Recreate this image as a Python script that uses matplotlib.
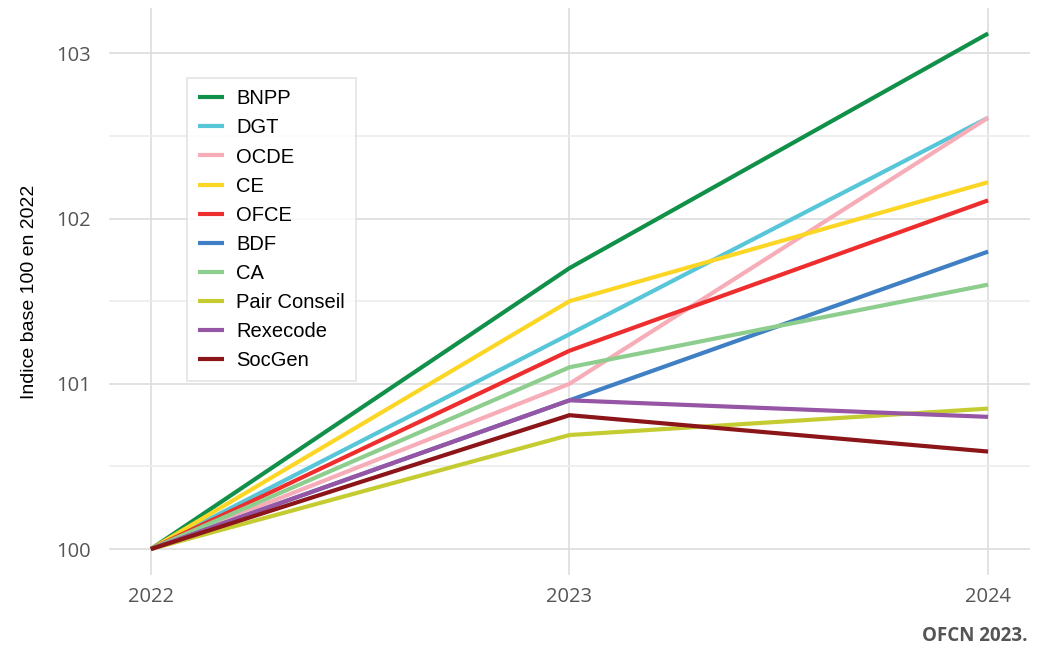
import numpy as np
import matplotlib
matplotlib.use("Agg")
import matplotlib.pyplot as plt
from matplotlib.ticker import MultipleLocator

# data (index base 100 in 2022)
years = [2022, 2023, 2024]
names = ["BNPP", "DGT", "OCDE", "CE", "OFCE", "BDF", "CA",
         "Pair Conseil", "Rexecode", "SocGen"]
values = {
    "BNPP": [100, 101.70, 103.12],
    "DGT": [100, 101.30, 102.61],
    "OCDE": [100, 101.00, 102.61],
    "CE": [100, 101.50, 102.22],
    "OFCE": [100, 101.20, 102.11],
    "BDF": [100, 100.90, 101.80],
    "CA": [100, 101.10, 101.60],
    "Pair Conseil": [100, 100.69, 100.85],
    "Rexecode": [100, 100.90, 100.80],
    "SocGen": [100, 100.81, 100.59],
}
colors = ["#11904a", "#57c6d9", "#f7adb8", "#fcd625", "#ee2e2e",
          "#3f80c4", "#8dce8f", "#c5cc32", "#9655a5", "#8b1518"]

fig = plt.figure(figsize=(10.39, 6.47), dpi=100)
ax = fig.add_axes([0.1049, 0.1113, 0.8864, 0.8763])

for name, c in zip(names, colors):
    ax.plot(years, values[name], color=c, lw=3, label=name,
            solid_capstyle="butt")

ax.set_xlim(2021.9, 2024.1)
ax.set_ylim(99.843, 103.274)
ax.set_xticks(years)
ax.yaxis.set_major_locator(MultipleLocator(1))
ax.yaxis.set_minor_locator(MultipleLocator(0.5))
ax.grid(True, which="major", color="#dddddd", lw=1.2)
ax.grid(True, which="minor", axis="y", color="#ececec", lw=1.2)
ax.set_axisbelow(True)
for s in ax.spines.values():
    s.set_visible(False)
ax.tick_params(which="both", length=0)
ax.tick_params(axis="x", pad=9)
ax.tick_params(axis="y", pad=13)
for lab in ax.get_xticklabels() + ax.get_yticklabels():
    lab.set_fontfamily("Open Sans")
    lab.set_fontsize(14.5)
    lab.set_color("#555555")

ax.set_ylabel("Indice base 100 en 2022", fontsize=14, family="Liberation Sans",
              color="black")
ax.yaxis.set_label_coords(-0.077, 0.5)

leg = ax.legend(loc="upper left", bbox_to_anchor=(0.0845, 0.876),
                prop={"family": "Liberation Sans", "size": 14.5},
                frameon=True, fancybox=False, edgecolor="#dddddd",
                handlelength=1.3, handletextpad=0.6, labelspacing=0.5,
                borderpad=0.55, borderaxespad=0)
leg.get_frame().set_linewidth(1.2)

fig.text(0.9895, 0.017, "OFCN 2023.", ha="right", va="center",
         fontsize=13.5, fontweight="bold", family="Open Sans", color="#555555")

fig.savefig("out.png", dpi=100)
